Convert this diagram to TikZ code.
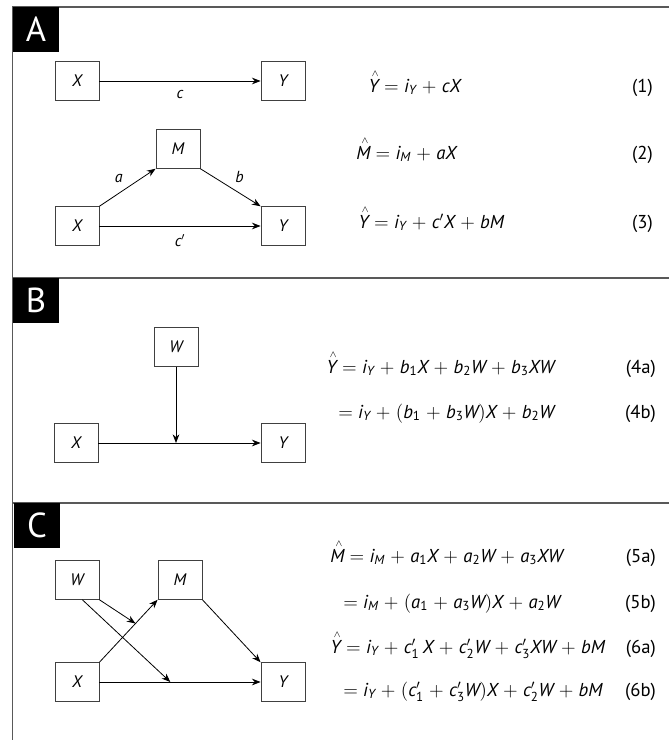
\documentclass[tikz,border=0pt]{standalone}
\usepackage{amsmath}
\usepackage{mathspec}
\setmainfont{PT Sans}
\setmathsfont(Digits,Latin)[Scale=1]{PT Sans}
\usetikzlibrary{arrows.meta,calc}
\medmuskip=5mu plus 2mu minus 2mu
\newcommand{\pred}[1]{\overset{\kern2.5pt\raisebox{-1.5pt}{$\scriptscriptstyle\wedge$}}{#1}}

\begin{document}
\begin{tikzpicture}[x=0.75pt, y=-0.75pt, >={Stealth[length=6.5pt,width=5pt]},
    font=\fontsize{12}{14}\selectfont,
    var/.style={draw=black!75, line width=0.6pt, minimum width=33pt, minimum height=29pt, inner sep=0pt, font=\fontsize{12.5}{14}\selectfont\itshape},
    frame/.style={draw=black!65, line width=1.1pt},
    tag/.style={fill=black, text=white, minimum width=35pt, minimum height=33.5pt, inner sep=0pt, anchor=north west, font=\fontsize{26}{26}\selectfont},
    eq/.style={anchor=base west, inner sep=0pt, font=\fontsize{14}{16}\selectfont},
    num/.style={anchor=base east, inner sep=0pt, font=\fontsize{14}{16}\selectfont},
    edge/.style={->, line width=0.6pt}]
    \useasboundingbox (0,0) rectangle (669,740);

    % Cornice e separatori dei pannelli
    \draw[frame] (12.5,740) -- (12.5,7) -- (669,7);
    \draw[frame] (12.5,278) -- (669,278);
    \draw[frame] (12.5,503) -- (669,503);

    % Pannello A: effetto totale
    \node[tag] (tagA) at (12.5,7) {A};
    \node[var] (xA) at (77,81) {X};
    \node[var] (yA) at (283,81) {Y};
    \draw[edge] (xA) -- node[below=3pt] {\itshape c} (yA);

    % Pannello A: mediazione semplice
    \node[var] (mA) at (178,149) {M};
    \node[var] (xA2) at (77,226) {X};
    \node[var] (yA2) at (283,226) {Y};
    \draw[edge] (xA2.north east) -- node[above left] {\itshape a} (mA.south west);
    \draw[edge] (mA.south east) -- node[above right] {\itshape b} (yA2.north west);
    \draw[edge] (xA2) -- node[below=3pt] {$c'$} (yA2);

    % Equazioni del pannello A
    \node[eq] (eq1) at (368,92) {$\pred{Y} = i_Y + cX$};
    \node[num] (n1) at (653,92) {(1)};
    \node[eq] (eq2) at (356,159) {$\pred{M} = i_M + aX$};
    \node[num] (n2) at (653,159) {(2)};
    \node[eq] (eq3) at (358,228) {$\pred{Y} = i_Y + c'X + bM$};
    \node[num] (n3) at (653,228) {(3)};

    % Pannello B: moderazione
    \node[tag] (tagB) at (12.5,278) {B};
    \node[var] (wB) at (176,347) {W};
    \node[var] (xB) at (76,443) {X};
    \node[var] (yB) at (283,443) {Y};
    \draw[edge] (xB) -- (yB);
    \draw[edge] (wB) -- (wB |- xB.east);

    % Equazioni del pannello B
    \node[eq] (eq4a) at (326,373) {$\pred{Y} = i_Y + b_1X + b_2W + b_3XW$};
    \node[num] (n4a) at (656,373) {(4a)};
    \node[eq] (eq4b) at (338,418) {$= i_Y + (b_1 + b_3W)X + b_2W$};
    \node[num] (n4b) at (656,418) {(4b)};

    % Pannello C: mediazione moderata
    \node[tag] (tagC) at (13.5,503) {C};
    \node[var] (wC) at (77,580) {W};
    \node[var] (mC) at (180,580) {M};
    \node[var] (xC) at (77,682) {X};
    \node[var] (yC) at (283,682) {Y};
    \draw[edge] (xC.north east) -- coordinate[pos=0.62] (xmC) (mC.south west);
    \draw[edge] (mC.south east) -- (yC.north west);
    \draw[edge] (xC) -- coordinate[pos=0.44] (xyC) (yC);
    \draw[edge] (wC.south east) -- (xmC);
    \draw[edge] ([xshift=4pt]wC.south) -- (xyC);

    % Equazioni del pannello C
    \node[eq] (eq5a) at (330,562) {$\pred{M} = i_M + a_1X + a_2W + a_3XW$};
    \node[num] (n5a) at (656,562) {(5a)};
    \node[eq] (eq5b) at (343,608) {$= i_M + (a_1 + a_3W)X + a_2W$};
    \node[num] (n5b) at (656,608) {(5b)};
    \node[eq] (eq6a) at (330,653) {$\pred{Y} = i_Y + c'_1\,X + c'_2W + c'_3XW + bM$};
    \node[num] (n6a) at (656,653) {(6a)};
    \node[eq] (eq6b) at (343,696) {$= i_Y + (c'_1 + c'_3W)X + c'_2W + bM$};
    \node[num] (n6b) at (656,696) {(6b)};
\end{tikzpicture}
\end{document}
